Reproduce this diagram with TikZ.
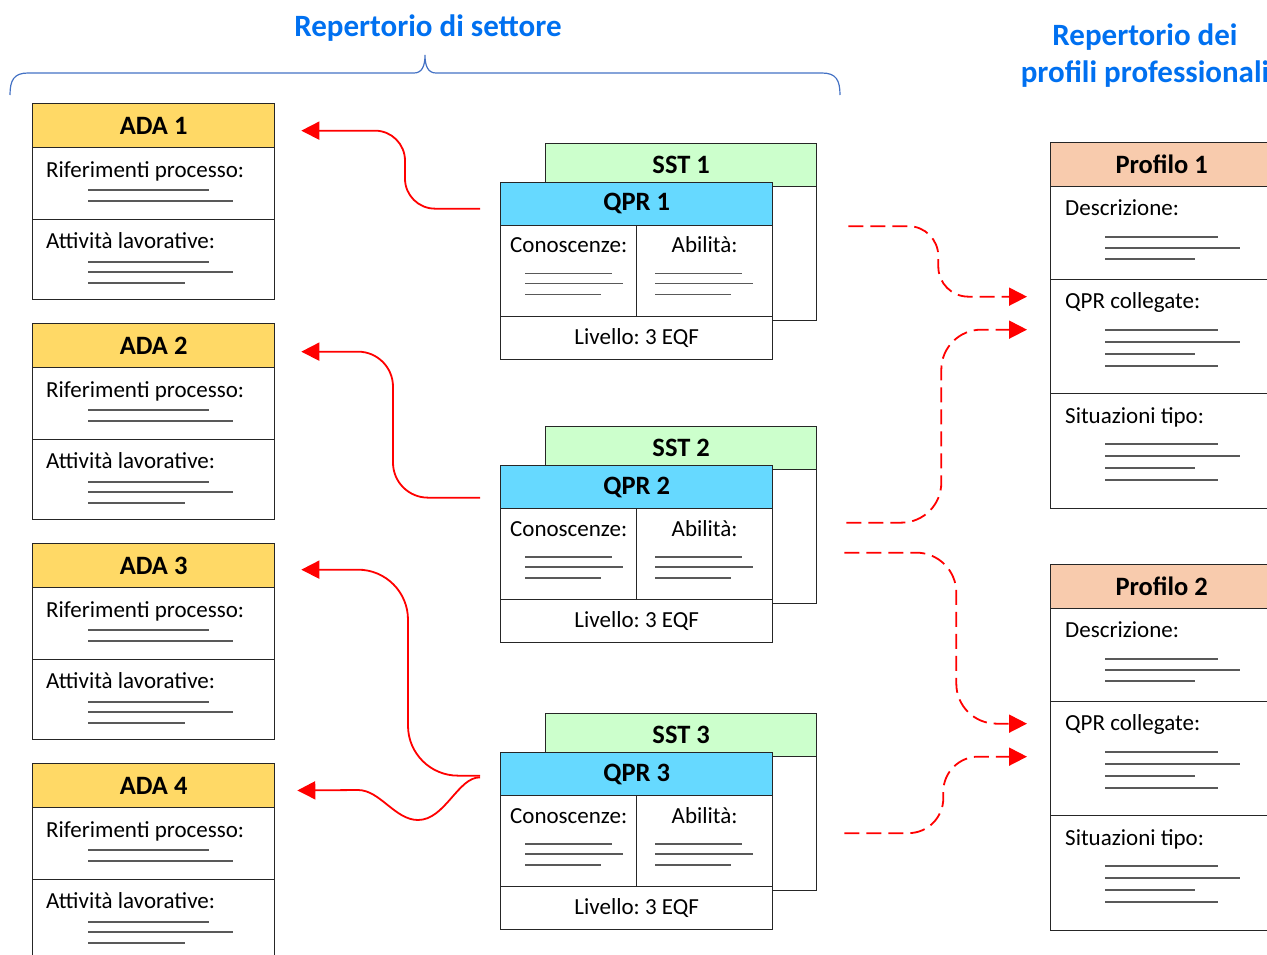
\documentclass[tikz,border=0pt]{standalone}
\usepackage{fontspec}
\setmainfont{Carlito}
\usetikzlibrary{arrows.meta}
\frenchspacing

\definecolor{adagiallo}{RGB}{255,217,102}
\definecolor{sstverde}{RGB}{204,255,204}
\definecolor{qprblu}{RGB}{102,217,255}
\definecolor{profpesca}{RGB}{248,203,173}
\definecolor{titoloblu}{RGB}{0,112,240}
\definecolor{graffablu}{RGB}{68,114,196}

\newcommand{\titfont}{\fontsize{31}{37}\selectfont\bfseries}
\newcommand{\hdfont}{\fontsize{26.5}{30}\selectfont\bfseries}
\newcommand{\txfont}{\fontsize{23}{27}\selectfont}

\tikzset{
  box/.style={draw=black!85, line width=1.3pt, inner sep=0pt, anchor=north west},
  titolo/.style={text=titoloblu, font=\titfont, inner sep=0pt},
  etich/.style={anchor=base west, font=\txfont, inner sep=0pt},
  etichc/.style={anchor=base, font=\txfont, inner sep=0pt},
  ph/.style={draw=black!65, line width=1.1pt},
  redarr/.style={red, line width=1.8pt, -{Triangle[length=18pt,width=18pt]}},
  dasharr/.style={redarr, dash pattern=on 15pt off 7pt}
}

\begin{document}
\begin{tikzpicture}[x=1pt,y=-1pt]
    \useasboundingbox (0,0) rectangle (1267,954);

    % 标题
    \node[titolo] (tit1) at (428,28) {Repertorio di settore};
    \node[titolo, align=center] (tit2) at (1145,56) {Repertorio dei\\profili professionali};

    % 大括号
    \draw[graffablu, line width=1.2pt] (10,95) .. controls (10,80) and (14,73) .. (28,73) -- (414,73)
        .. controls (422,73) and (425,66) .. (425,55) .. controls (425,66) and (428,73) .. (436,73)
        -- (822,73) .. controls (836,73) and (840,80) .. (840,95);

    % ADA
    \foreach \i in {1,...,4}{
        \pgfmathsetmacro{\yy}{103+220*(\i-1)}
        \node[box, fill=adagiallo, minimum width=242pt, minimum height=44pt, font=\hdfont] (ada\i) at (32,\yy) {ADA \i};
        \node[box, fill=white, minimum width=242pt, minimum height=72pt] (rif\i) at (32,\yy+44) {};
        \node[box, fill=white, minimum width=242pt, minimum height=80pt] (att\i) at (32,\yy+116) {};
        \node[etich] (lrif\i) at ([shift={(14,30)}]rif\i.north west) {Riferimenti processo:};
        \node[etich] (latt\i) at ([shift={(14,29)}]att\i.north west) {Attività lavorative:};
        \foreach \dy/\len in {43/121,54/145}
            \draw[ph] ([shift={(56,\dy)}]rif\i.north west) -- ++(\len,0);
        \foreach \dy/\len in {43/121,53/145,64/97}
            \draw[ph] ([shift={(56,\dy)}]att\i.north west) -- ++(\len,0);
    }

    % SST e QPR
    \foreach \i/\yy in {1/181.5,2/465,3/752}{
        \node[box, fill=sstverde, minimum width=271pt, minimum height=43pt, font=\hdfont] (sst\i) at (545,\yy-39) {SST \i};
        \node[box, fill=white, minimum width=271pt, minimum height=134pt] (sstc\i) at (545,\yy+4) {};
        \node[box, fill=qprblu, minimum width=272pt, minimum height=43pt, font=\hdfont] (qpr\i) at (500,\yy) {QPR \i};
        \node[box, fill=white, minimum width=136pt, minimum height=91pt] (con\i) at (500,\yy+43) {};
        \node[box, fill=white, minimum width=136pt, minimum height=91pt] (abi\i) at (636,\yy+43) {};
        \node[box, fill=white, minimum width=272pt, minimum height=43pt, font=\txfont] (liv\i) at (500,\yy+134) {Livello: 3 EQF};
        \node[etichc] (lcon\i) at ([yshift=-28pt]con\i.north) {Conoscenze:};
        \node[etichc] (labi\i) at ([yshift=-28pt]abi\i.north) {Abilità:};
        \foreach \dy/\len in {49/87,59/98,70/76}{
            \draw[ph] ([shift={(25,\dy)}]con\i.north west) -- ++(\len,0);
            \draw[ph] ([shift={(19,\dy)}]abi\i.north west) -- ++(\len,0);
        }
    }

    % profili
    \foreach \i/\yy in {1/142,2/564}{
        \node[box, fill=profpesca, minimum width=222pt, minimum height=44pt, font=\hdfont] (pro\i) at (1050,\yy) {Profilo \i};
        \node[box, fill=white, minimum width=222pt, minimum height=93pt] (des\i) at (1050,\yy+44) {};
        \node[box, fill=white, minimum width=222pt, minimum height=114pt] (qpc\i) at (1050,\yy+137) {};
        \node[box, fill=white, minimum width=222pt, minimum height=115pt] (sit\i) at (1050,\yy+251) {};
        \node[etich] (ldes\i) at ([shift={(15,29)}]des\i.north west) {Descrizione:};
        \node[etich] (lqpc\i) at ([shift={(15,29)}]qpc\i.north west) {QPR collegate:};
        \node[etich] (lsit\i) at ([shift={(15,30)}]sit\i.north west) {Situazioni tipo:};
        \foreach \dy/\len in {51/113,62/135,73/90}
            \draw[ph] ([shift={(55,\dy)}]des\i.north west) -- ++(\len,0);
        \foreach \dy/\len in {51/113,63/135,75/90,87/113}{
            \draw[ph] ([shift={(55,\dy)}]qpc\i.north west) -- ++(\len,0);
            \draw[ph] ([shift={(55,\dy)}]sit\i.north west) -- ++(\len,0);
        }
    }

    % frecce QPR -> ADA
    \draw[redarr, rounded corners=30pt, shorten <=20pt, shorten >=26pt] ([yshift=-5pt]qpr1.west) -- ++(-95,0) |- ([yshift=-5pt]ada1.east);
    \draw[redarr, rounded corners=35pt, shorten <=20pt, shorten >=26pt] ([yshift=-10.5pt]qpr2.west) -- ++(-107,0) |- ([yshift=-6pt]ada2.east);
    \draw[redarr, rounded corners=50pt, shorten <=20pt, shorten >=26pt] ([yshift=-1.5pt]qpr3.west) -- ++(-92,0) |- ([yshift=-4pt]ada3.east);
    \coordinate (k4) at (418,820);
    \coordinate (k5) at (358,790);
    \draw[redarr, shorten <=20pt, shorten >=22pt] ([yshift=-3.5pt]qpr3.west) .. controls (458,777) and (445,820) .. (k4)
        .. controls (395,820) and (380,790) .. (k5) -- ([yshift=-5pt]ada4.east);

    % frecce SST -> profili
    \draw[dasharr, rounded corners=30pt, shorten <=31pt, shorten >=23pt] ([yshift=27pt]sstc1.east) -- ++(121,0) |- ([yshift=40pt]qpc1.west);
    \draw[dasharr, rounded corners=40pt, shorten <=29pt, shorten >=23pt] ([yshift=14pt]sstc2.east) -- ++(124,0) |- ([yshift=7pt]qpc1.west);
    \draw[dasharr, rounded corners=40pt, shorten <=27pt, shorten >=23pt] ([yshift=-16pt]sstc2.east) -- ++(139,0) |- ([yshift=35pt]qpc2.west);
    \draw[dasharr, rounded corners=35pt, shorten <=27pt, shorten >=23pt] ([yshift=-9.5pt]sstc3.east) -- ++(126,0) |- ([yshift=2pt]qpc2.west);
\end{tikzpicture}
\end{document}
